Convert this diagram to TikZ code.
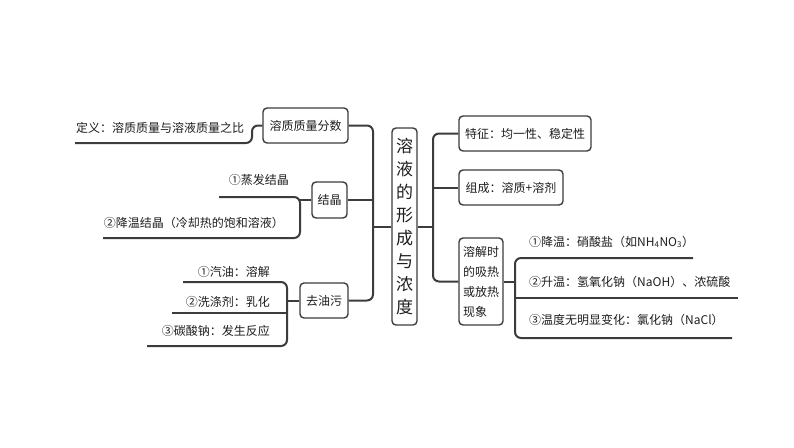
\documentclass[tikz,border=0pt]{standalone}
\usepackage{fontspec}
\setmainfont{Noto Sans CJK SC}
\definecolor{linec}{HTML}{3C3C3C}
\definecolor{textc}{HTML}{1E1E1E}
\begin{document}
\begin{tikzpicture}[x=1pt,y=-1pt,
  box/.style={draw=linec, line width=1.4pt, rounded corners=4pt, inner sep=0pt, fill=white,
    font=\fontsize{12}{14}\selectfont, text=textc},
  conn/.style={draw=linec, line width=2pt, rounded corners=6pt},
  leaf/.style={inner sep=0pt, font=\fontsize{12}{14}\selectfont, text=textc}]
\useasboundingbox (0,0) rectangle (794,447);
\fill[white] (0,0) rectangle (794,447);
% central node
\node[box, minimum width=25pt, minimum height=197pt, align=center,
  font=\fontsize{17}{23}\selectfont] (c) at (404.5,226.5) {溶\\液\\的\\形\\成\\与\\浓\\度};
% left boxes
\node[box, minimum width=85pt, minimum height=35pt] (l1) at (305.5,125.5) {溶质质量分数};
\node[box, minimum width=35pt, minimum height=36pt] (l2) at (329.5,200) {结晶};
\node[box, minimum width=48pt, minimum height=35pt] (l3) at (324,300.5) {去油污};
% right boxes
\node[box, minimum width=132pt, minimum height=35pt] (r1) at (525,133.5) {特征：均一性、稳定性};
\node[box, minimum width=104pt, minimum height=35pt] (r2) at (511,187.5) {组成：溶质+溶剂};
\node[box, minimum width=44pt, minimum height=87pt, align=left,
  font=\fontsize{12}{20}\selectfont] (r3) at (481,281.5) {溶解时\\的吸热\\或放热\\现象};
% leaves
\node[leaf, anchor=west] (d1) at (76,128) {定义：溶质质量与溶液质量之比};
\node[leaf, anchor=east] (k1) at (289,180) {①蒸发结晶};
\node[leaf, anchor=east] (k2) at (284,223) {②降温结晶（冷却热的饱和溶液）};
\node[leaf, anchor=east] (o1) at (270,272) {①汽油：溶解};
\node[leaf, anchor=east] (o2) at (270,302) {②洗涤剂：乳化};
\node[leaf, anchor=east] (o3) at (270,331) {③碳酸钠：发生反应};
\node[leaf, anchor=west] (h1) at (529,242) {①降温：硝酸盐（如NH\textsubscript{4}NO\textsubscript{3}）};
\node[leaf, anchor=west] (h2) at (529,282) {②升温：氢氧化钠（NaOH）、浓硫酸};
\node[leaf, anchor=west] (h3) at (529,320) {③温度无明显变化：氯化钠（NaCl）};
% trunk coordinates
\coordinate (lt) at (373,226.5);
\coordinate (rt) at (433,226.5);
% left trunk
\draw[conn] (l1.east) -| (lt) |- (l3.east);
\draw[conn] (l2.east) -- (l2.east -| lt);
\draw[conn] (c.west) -- (lt);
% right trunk
\draw[conn] (r1.west) -| (rt) |- (r3.west);
\draw[conn] (r2.west) -- (r2.west -| rt);
\draw[conn] (c.east) -- (rt);
% definition underline
\coordinate (db) at (252,143);
\coordinate (de) at (75,143);
\draw[conn] (l1.west) -| (db) -- (de);
% crystallisation bracket
\coordinate (kb) at (300,217);
\coordinate (k1e) at (219,197);
\coordinate (k2e) at (103,238);
\draw[conn] (k1e) -| (kb) |- (k2e);
\draw[conn] (l2.west) -- (l2.west -| kb);
% oil bracket
\coordinate (ob) at (287,314);
\coordinate (o1e) at (183,282);
\coordinate (o2e) at (172,313);
\coordinate (o3e) at (147,346);
\draw[conn] (o1e) -| (ob) |- (o3e);
\draw[conn] (o2e) -- (o2e -| ob);
\draw[conn] (l3.west) -- (l3.west -| ob);
% heat bracket
\coordinate (hb) at (515,298);
\coordinate (h1e) at (693,258);
\coordinate (h2e) at (738,298);
\coordinate (h3e) at (732,338);
\draw[conn] (h1e) -| (hb) |- (h3e);
\draw[conn] (h2e) -- (hb);
\draw[conn] (r3.east) -- (r3.east -| hb);
\end{tikzpicture}
\end{document}
